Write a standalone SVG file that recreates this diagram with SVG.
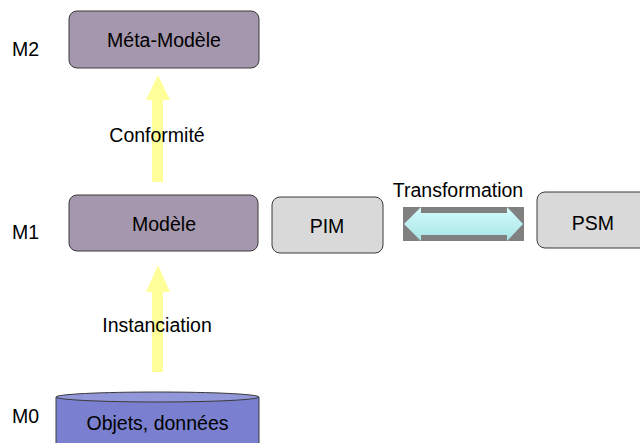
<svg xmlns="http://www.w3.org/2000/svg" width="640" height="443" viewBox="0 0 640 443">
<defs>
<style>
text{font-family:"Liberation Sans",Arial,sans-serif;font-size:19.5px;fill:#000}
.c{text-anchor:middle}
.purple{fill:#A597AD;stroke:#3a3a3a;stroke-width:1}
.grey{fill:#D9D9D9;stroke:#3a3a3a;stroke-width:1}
.yarrow{fill:#FFFF99}
</style>
<linearGradient id="cyan" x1="0" y1="0" x2="0" y2="1">
<stop offset="0" stop-color="#D4FBFB"/>
<stop offset="1" stop-color="#A8E4E6"/>
</linearGradient>
</defs>
<g id="levels">
<text x="12" y="56">M2</text>
<text x="12" y="239">M1</text>
<text x="12" y="423">M0</text>
</g>
<g id="connectors">
<polygon class="yarrow" points="152,182 152,100 146,100 158,75 170,100 163,100 163,182"/>
<text class="c" x="157" y="142">Conformité</text>
<polygon class="yarrow" points="152,372 152,292 146,292 158,265 170,292 163,292 163,372"/>
<text class="c" x="157" y="332">Instanciation</text>
<rect x="403" y="207" width="121" height="34" fill="#808080"/>
<polygon fill="url(#cyan)" points="404,224 421,207 421,213 507,213 507,207 523,224 507,241 507,235 421,235 421,241"/>
<text class="c" x="458" y="197">Transformation</text>
</g>
<g id="meta">
<rect class="purple" x="69" y="11" width="190" height="57" rx="8"/>
<text class="c" x="164" y="47">Méta-Modèle</text>
</g>
<g id="modele">
<rect class="purple" x="69" y="195" width="189" height="56" rx="8"/>
<text class="c" x="164" y="231">Modèle</text>
</g>
<g id="pim">
<rect class="grey" x="272" y="197" width="111" height="56" rx="8"/>
<text class="c" x="327" y="233">PIM</text>
</g>
<g id="psm">
<rect class="grey" x="537" y="192" width="111" height="56" rx="8"/>
<text class="c" x="593" y="230">PSM</text>
</g>
<g id="objets">
<path d="M56,397 L56,450 L259,450 L259,397" fill="#7A80CF" stroke="#3a3a3a" stroke-width="1"/>
<ellipse cx="157.5" cy="397" rx="101.5" ry="5" fill="#9297DA" stroke="#3a3a3a" stroke-width="1"/>
<text class="c" x="157.5" y="430">Objets, données</text>
</g>
</svg>
